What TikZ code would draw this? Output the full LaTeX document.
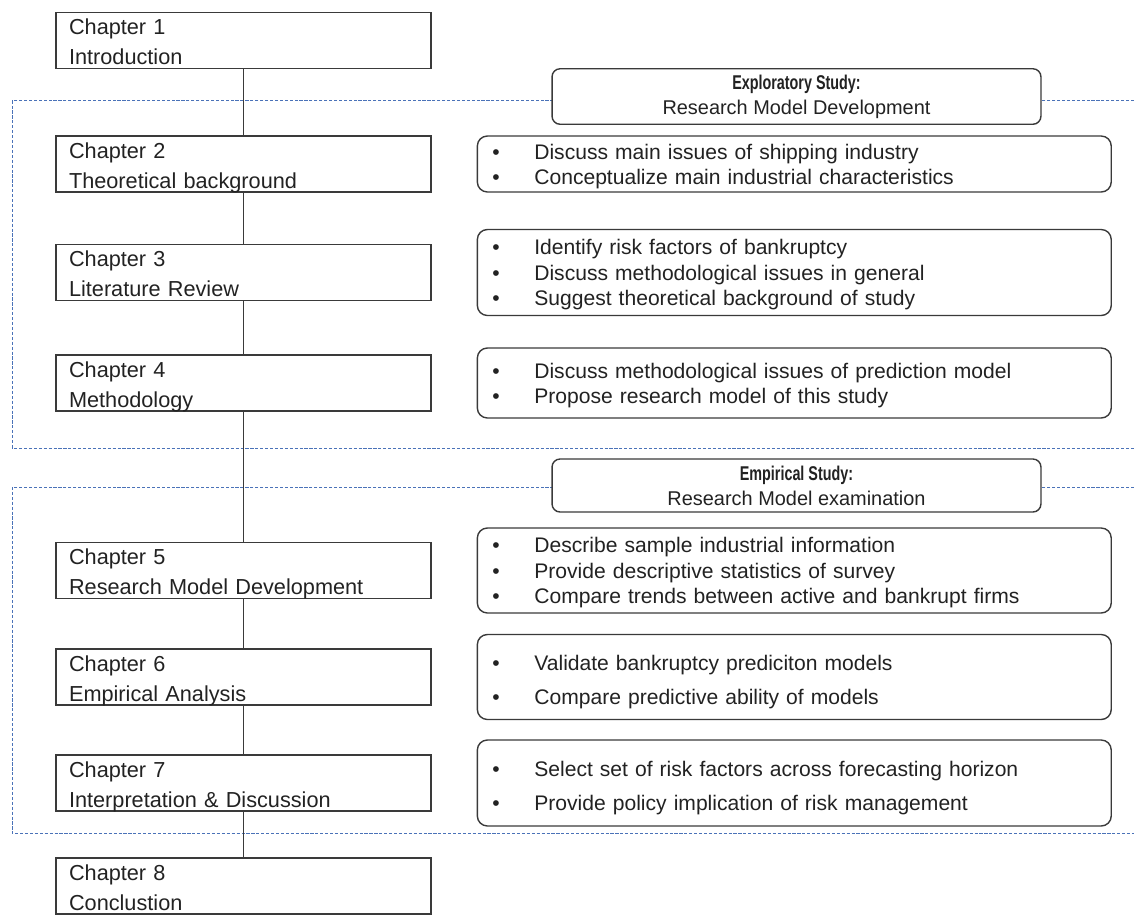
\documentclass[tikz,border=0pt]{standalone}
\usepackage{fontspec}
\setmainfont{Liberation Sans}
\newfontfamily\headbold{Liberation Sans}[FakeStretch=0.72]
\usetikzlibrary{positioning}

\definecolor{boxline}{HTML}{3A3A3A}
\definecolor{txt}{HTML}{222222}
\definecolor{phase}{HTML}{4A72B8}

\newcommand{\chapfont}{\fontsize{12.35}{17}\selectfont}
\newcommand{\listfont}{\fontsize{12}{14.46}\selectfont}
\newcommand{\widelistfont}{\fontsize{12}{19.28}\selectfont}
\newcommand{\headsize}{\fontsize{11.34}{14.17}\selectfont}
\newcommand{\headtitle}[1]{{\headbold\bfseries #1}}
\newcommand{\itm}[1]{\makebox[0.84cm][l]{\textbullet}#1}

\tikzset{
  chapbox/.style={draw=boxline, line width=0.8pt, rectangle, minimum width=7.5cm, minimum height=1.12cm,
    text width=6.98cm, inner xsep=0.26cm, inner ysep=0pt, align=left,
    text height=0.36cm, text depth=0.584cm, font=\chapfont, text=txt},
  listbox/.style={draw=boxline, line width=0.8pt, rounded corners=0.2cm, text width=12.08cm,
    inner xsep=0.3cm, inner ysep=0pt, align=left, text height=0.4cm, font=\listfont, text=txt},
  headbox/.style={draw=boxline, line width=0.8pt, rounded corners=0.16cm, fill=white,
    minimum width=9.78cm, inner ysep=0pt, align=center, font=\headsize, text=txt},
  phasebox/.style={draw=phase, line width=0.55pt, dash pattern=on 1.8pt off 1pt},
  link/.style={draw=boxline, line width=0.75pt}
}

\begin{document}
\begin{tikzpicture}[x=0.02cm, y=-0.02cm]
	\useasboundingbox (0,0) rectangle (1134,914);
	
	%dashed phase frames
	\draw[phasebox] (1134,100.7) -- (12.3,100.7) -- (12.3,448) -- (1134,448);
	\draw[phasebox] (1134,487) -- (12.3,487) -- (12.3,833.3) -- (1134,833.3);
	
	%chapters
	\node[chapbox] (c1) at (243.5,40.5) {Chapter 1\\Introduction};
	\node[chapbox] (c2) at (243.5,164) {Chapter 2\\Theoretical background};
	\node[chapbox] (c3) at (243.5,272.5) {Chapter 3\\Literature Review};
	\node[chapbox] (c4) at (243.5,383) {Chapter 4\\Methodology};
	\node[chapbox] (c5) at (243.5,570.5) {Chapter 5\\Research Model Development};
	\node[chapbox] (c6) at (243.5,677) {Chapter 6\\Empirical Analysis};
	\node[chapbox] (c7) at (243.5,783) {Chapter 7\\Interpretation \& Discussion};
	\node[chapbox] (c8) at (243.5,886) {Chapter 8\\Conclustion};
	
	%vertical line
	\foreach \a/\b in {c1/c2,c2/c3,c3/c4,c4/c5,c5/c6,c6/c7,c7/c8}
		\draw[link] (\a) -- (\b);
	
	%phase titles
	\node[headbox, minimum height=1.11cm] (explo) at (796.5,96.5) {\headtitle{Exploratory Study:}\\Research Model Development};
	\node[headbox, minimum height=1.06cm] (empir) at (796.5,485.5) {\headtitle{Empirical Study:}\\Research Model examination};
	
	%chapter contents
	\node[listbox, minimum height=1.12cm, right=0.9cm of c2] (l2) {\itm{Discuss main issues of shipping industry}\\\itm{Conceptualize main industrial characteristics}};
	\node[listbox, minimum height=1.72cm, right=0.9cm of c3] (l3) {\itm{Identify risk factors of bankruptcy}\\\itm{Discuss methodological issues in general}\\\itm{Suggest theoretical background of study}};
	\node[listbox, minimum height=1.4cm, right=0.9cm of c4] (l4) {\itm{Discuss methodological issues of prediction model}\\\itm{Propose research model of this study}};
	\node[listbox, minimum height=1.7cm, right=0.9cm of c5] (l5) {\itm{Describe sample industrial information}\\\itm{Provide descriptive statistics of survey}\\\itm{Compare trends between active and bankrupt firms}};
	\node[listbox, minimum height=1.7cm, text height=0.51cm, font=\widelistfont, right=0.9cm of c6] (l6) {\itm{Validate bankruptcy prediciton models}\\\itm{Compare predictive ability of models}};
	\node[listbox, minimum height=1.72cm, text height=0.51cm, font=\widelistfont, right=0.9cm of c7] (l7) {\itm{Select set of risk factors across forecasting horizon}\\\itm{Provide policy implication of risk management}};
	
\end{tikzpicture}
\end{document}
